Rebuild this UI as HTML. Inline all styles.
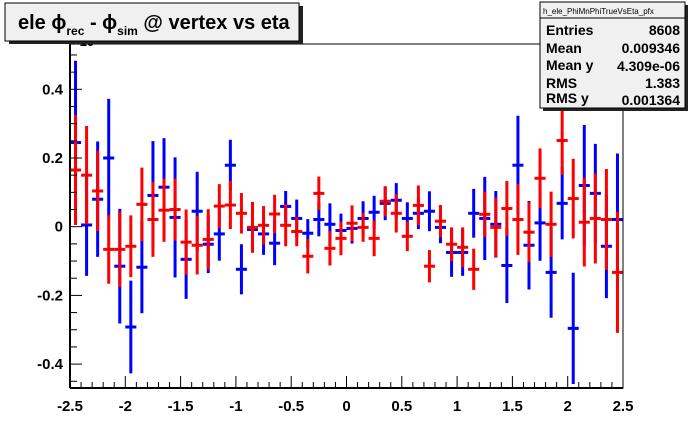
<!DOCTYPE html>
<html><head><meta charset="utf-8"><style>
body{margin:0;background:#fff;}
svg{display:block;font-family:"Liberation Sans",Arial,sans-serif;}
</style></head><body>
<svg id="chart" width="692" height="444" viewBox="0 0 692 444">
<rect x="0" y="0" width="692" height="444" fill="#fff"/>
<g id="marks"></g>
<g id="axes"></g>
<text x="72" y="46" font-size="13" font-weight="bold">×10</text>
<g>
<rect x="9" y="6" width="294" height="38" fill="#222"/>
<rect x="5" y="3" width="294" height="38" fill="#f0f0f0" stroke="#000" stroke-width="1"/>
<text x="18" y="29" font-size="20" font-weight="bold">ele ϕ<tspan font-size="12" dy="6">rec</tspan><tspan dy="-6"> - ϕ</tspan><tspan font-size="12" dy="6">sim</tspan><tspan dy="-6"> @ vertex vs eta</tspan></text>
</g>
<g font-weight="bold">
<rect x="543" y="5" width="145" height="106" fill="#222"/>
<rect x="540" y="2" width="145" height="106" fill="#f0f0f0" stroke="#000" stroke-width="1"/>
<line x1="540" y1="18" x2="685" y2="18" stroke="#000"/>
<text x="543" y="14" font-size="8" font-weight="normal">h_ele_PhiMnPhiTrueVsEta_pfx</text>
<text x="546" y="35" font-size="14">Entries</text><text x="680" y="35" font-size="14" text-anchor="end">8608</text>
<text x="546" y="53" font-size="14">Mean</text><text x="680" y="53" font-size="14" text-anchor="end">0.009346</text>
<text x="546" y="70" font-size="14">Mean y</text><text x="680" y="71" font-size="14" text-anchor="end">4.309e-06</text>
<text x="546" y="88" font-size="14">RMS</text><text x="680" y="88" font-size="14" text-anchor="end">1.383</text>
<text x="546" y="103" font-size="14">RMS y</text><text x="680" y="105" font-size="14" text-anchor="end">0.001364</text>
</g>
</svg>
<script>
const blueVals=[0.245,0.005,0.08,0.2,-0.115,-0.292,-0.118,0.091,0.115,0.027,-0.095,0.045,-0.051,-0.021,0.179,-0.124,-0.008,-0.021,-0.048,0.059,0.024,-0.019,0.021,0.007,-0.011,-0.005,0.024,0.042,0.068,0.077,0.024,0.039,0.045,-0.002,-0.075,-0.075,0.039,0.024,0.007,-0.113,0.179,-0.054,0.011,-0.133,0.068,-0.296,0.12,0.097,-0.057,0.021];
const blueErrs=[0.238,0.148,0.168,0.172,0.167,0.135,0.134,0.158,0.143,0.175,0.115,0.115,0.084,0.078,0.074,0.073,0.04,0.061,0.064,0.045,0.055,0.041,0.049,0.061,0.049,0.044,0.05,0.048,0.049,0.05,0.047,0.046,0.058,0.046,0.071,0.068,0.071,0.121,0.097,0.109,0.144,0.129,0.11,0.132,0.105,0.162,0.176,0.144,0.151,0.192];
const redVals=[0.165,0.15,0.104,-0.066,-0.066,-0.057,0.065,0.021,0.048,0.05,-0.045,-0.054,-0.037,0.06,0.063,0.039,-0.002,0.004,0.037,0.004,-0.014,-0.086,0.097,-0.063,-0.034,0.01,-0.002,-0.034,0.074,0.039,-0.028,0.062,-0.115,0.016,-0.051,-0.06,-0.124,0.036,-0.002,0.053,0.021,-0.016,0.141,0.007,0.251,0.082,0.013,0.024,0.021,-0.133];
const redErrs=[0.16,0.143,0.117,0.1,0.11,0.09,0.107,0.109,0.092,0.09,0.095,0.085,0.088,0.064,0.07,0.059,0.074,0.056,0.056,0.061,0.043,0.05,0.049,0.05,0.049,0.052,0.042,0.052,0.044,0.056,0.043,0.058,0.047,0.047,0.049,0.058,0.06,0.066,0.087,0.08,0.103,0.087,0.087,0.095,0.1,0.116,0.129,0.131,0.147,0.176];
const xTicks=["-2.5","-2","-1.5","-1","-0.5","0","0.5","1","1.5","2","2.5"];
const yTicks=["-0.4","-0.2","0","0.2","0.4"];
const NS="http://www.w3.org/2000/svg";
const X0=70,X1=623,Y0=44,Y1=388,xmin=-2.5,xmax=2.5,ymin=-0.4696,ymax=0.5319;
function sx(v){return X0+(v-xmin)/(xmax-xmin)*(X1-X0);}
function sy(v){return Y1-(v-ymin)/(ymax-ymin)*(Y1-Y0);}
function mk(tag,attrs,parent){const e=document.createElementNS(NS,tag);for(const k in attrs)e.setAttribute(k,attrs[k]);parent.appendChild(e);return e;}
const marks=document.getElementById('marks');
const axes=document.getElementById('axes');
const nb=blueVals.length,bw=(xmax-xmin)/nb;
function series(vals,errs,color,name){
  const g=mk('g',{},marks);
  
  
  for(let i=0;i<vals.length;i++){
    const c=xmin+(i+0.5)*bw;
    const p=mk('g',{},g);
    
    
    const yt=Math.max(Y0,sy(vals[i]+errs[i])),yb=Math.min(Y1,sy(vals[i]-errs[i]));
    mk('line',{x1:sx(c),x2:sx(c),y1:yt,y2:yb,stroke:color,'stroke-width':3},p);
    mk('line',{x1:sx(c-bw/2),x2:sx(c+bw/2),y1:sy(vals[i]),y2:sy(vals[i]),stroke:color,'stroke-width':3},p);
    mk('rect',{x:sx(c)-0.5,y:sy(vals[i])-0.5,width:1,height:1,fill:'#000'},p);
  }
}
series(blueVals,blueErrs,'#0000ff','blue');
series(redVals,redErrs,'#ff0000','red');
const fr=mk('path',{d:`M${X0},${Y0}H${X1}V${Y1}H${X0}Z`,fill:'none',stroke:'#000','stroke-width':1},axes);


mk('line',{x1:X0,x2:X0,y1:Y0,y2:Y1,stroke:'#000','stroke-width':2},axes);
mk('line',{x1:X0,x2:X1,y1:Y1,y2:Y1,stroke:'#000','stroke-width':2},axes);
for(let k=0;k<=50;k++){
  const v=xmin+k*0.1,x=sx(v),major=(k%5===0);
  mk('line',{x1:x,x2:x,y1:Y1,y2:Y1-(major?12:6),stroke:'#000','stroke-width':1},axes);
}
xTicks.forEach(t=>{
  const e=mk('text',{x:sx(parseFloat(t)),y:411,'font-size':15,'font-weight':'bold','text-anchor':'middle'},axes);
  e.textContent=t;
  
  
});
for(let k=-9;k<=10;k++){
  const v=k*0.05;if(v<ymin||v>ymax)continue;
  const y=sy(v),major=(k%4===0);
  mk('line',{x1:X0,x2:X0+(major?12:7),y1:y,y2:y,stroke:'#000','stroke-width':1},axes);
}
yTicks.forEach(t=>{
  const e=mk('text',{x:63,y:sy(parseFloat(t))+5,'font-size':15,'font-weight':'bold','text-anchor':'end'},axes);
  e.textContent=t;
  
  
});
</script>
</body></html>
